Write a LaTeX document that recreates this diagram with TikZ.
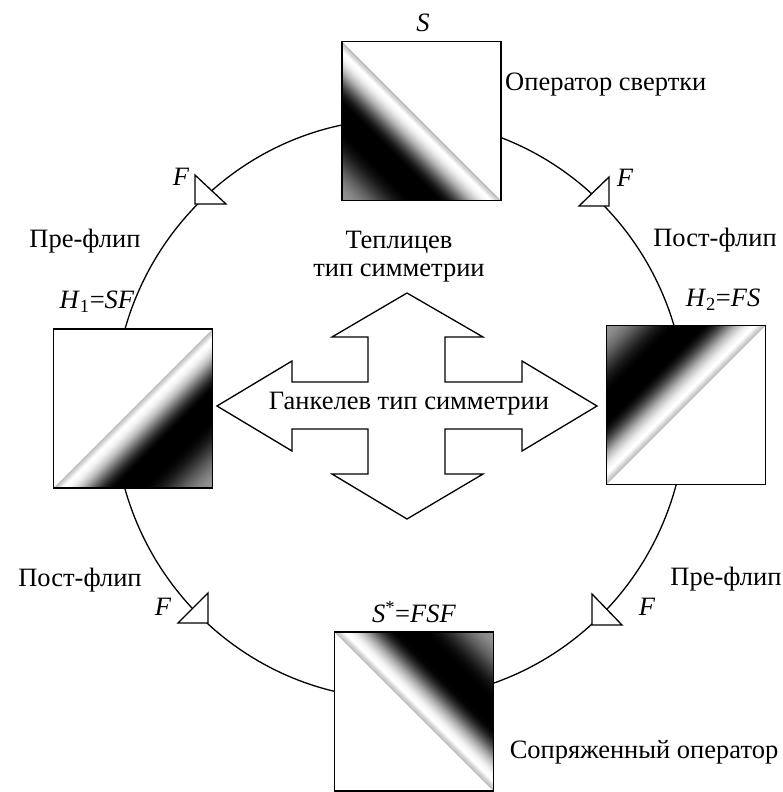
\documentclass[tikz,border=0pt]{standalone}
\usepackage{fontspec}
\setmainfont{Liberation Serif}
\usetikzlibrary{calc}
\tikzset{
  lbl/.style={font=\fontsize{26.5}{28}\selectfont, inner sep=0pt},
  ilbl/.style={font=\fontsize{26.5}{28}\selectfont\itshape, inner sep=0pt},
  sq/.style={fill=white, minimum size=159pt, inner sep=0pt, outer sep=0pt},
  sqborder/.style={draw=black, line width=1.4pt},
  ring/.style={line width=1.3pt},
  prism/.style={draw=black, fill=white, line width=1.3pt, line join=miter},
  bigarrow/.style={draw=black, fill=white, line width=1.3pt, line join=miter},
}
\newcommand{\bandshade}[3]{%
  \foreach \bandI in {0,...,89}{%
    \pgfmathsetmacro{\bandT}{1-\bandI/90}%
    \pgfmathsetmacro{\bandM}{(\bandI+0.5)/90}%
    \pgfmathsetmacro{\bandG}{max(0,min(1,\bandM<0.06 ? 0.72+0.28*\bandM/0.06 : (\bandM<0.40 ? 0.5+0.5*cos(180*(\bandM-0.06)/0.34) : (\bandM<0.55 ? 0 : 0.29*(1-cos(180*(\bandM-0.55)/0.45))))))}%
    \definecolor{bandc}{gray}{\bandG}%
    \fill[bandc] (#1) -- ($(#1)!\bandT!(#2)$) -- ($(#1)!\bandT!(#3)$) -- cycle;
  }%
}
\begin{document}
\begin{tikzpicture}[x=1pt,y=-1pt]
\useasboundingbox (0,0) rectangle (783,792);
\fill[white] (0,0) rectangle (783,792);

% ring
\draw[ring] (400,409) ellipse [x radius=286, y radius=290];

% squares
\node[sq] (S)  at (421.5,121) {};
\node[sq] (H1) at (133,408.5) {};
\node[sq] (H2) at (686,405) {};
\node[sq] (Ss) at (414,711.5) {};

\bandshade{S.south west}{S.north west}{S.south east}
\bandshade{H1.south east}{H1.south west}{H1.north east}
\bandshade{H2.north west}{H2.south west}{H2.north east}
\bandshade{Ss.north east}{Ss.north west}{Ss.south east}

\draw[sqborder] (S.south west) rectangle (S.north east);
\draw[sqborder] (H1.south west) rectangle (H1.north east);
\draw[sqborder] (H2.south west) rectangle (H2.north east);
\draw[sqborder] (Ss.south west) rectangle (Ss.north east);

% flip prisms
\draw[prism] (195,175) -- (195,204) -- (226,204) -- cycle;
\draw[prism] (609,177) -- (609,206) -- (579,206) -- cycle;
\draw[prism] (208,593) -- (208,623) -- (178,623) -- cycle;
\draw[prism] (592,594) -- (592,625) -- (622,625) -- cycle;

% central four-way arrow
\draw[bigarrow] (407,293) -- (483,337) -- (445,337) -- (445,382) -- (522,382) -- (522,361)
  -- (597,406) -- (522,451) -- (522,429) -- (445,429) -- (445,474) -- (483,474)
  -- (407,519) -- (332,474) -- (368,474) -- (368,429) -- (292,429) -- (292,451)
  -- (217,406) -- (292,361) -- (292,382) -- (368,382) -- (368,337) -- (332,337) -- cycle;

% labels
\node[ilbl] (lS) at (423,23) {S};
\node[lbl] (lH1) at (97,302) {\textit{H}\textsubscript{1}=\textit{SF}};
\node[lbl] (lH2) at (723,300) {\textit{H}\textsubscript{2}=\textit{FS}};
\node[lbl] (lSs) at (414,612) {\textit{S}\textsuperscript{*}=\textit{FSF}};
\node[ilbl] (F1) at (181,177) {F};
\node[ilbl] (F2) at (625,178) {F};
\node[ilbl] (F3) at (163,607) {F};
\node[ilbl] (F4) at (647,607) {F};

\node[lbl, anchor=west] (op) at (505,85) {Оператор свертки};
\node[lbl] (post1) at (715,240) {Пост-флип};
\node[lbl] (pre1) at (85,241) {Пре-флип};
\node[lbl, align=center] (toep) at (399,257) {Теплицев\\тип симметрии};
\node[lbl] (hank) at (409,404) {Ганкелев тип симметрии};
\node[lbl] (post2) at (80,580) {Пост-флип};
\node[lbl] (pre2) at (726,579) {Пре-флип};
\node[lbl] (conj) at (644,752) {Сопряженный оператор};
\end{tikzpicture}
\end{document}
